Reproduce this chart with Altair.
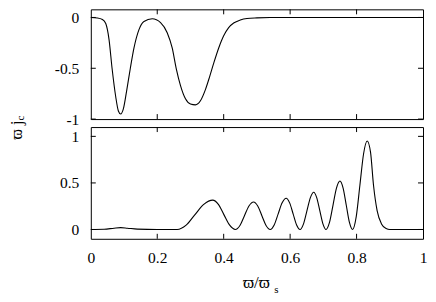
import altair as alt
import pandas as pd

# ---- data ----
top_x = [0.00, 0.02, 0.035, 0.045, 0.055, 0.064, 0.075, 0.083, 0.090, 0.098, 0.108, 0.119,
         0.130, 0.145, 0.160, 0.185, 0.210, 0.230, 0.245, 0.257, 0.270, 0.285, 0.300, 0.315,
         0.330, 0.345, 0.358, 0.370, 0.385, 0.400, 0.415, 0.430, 0.450, 0.470, 0.500, 0.540,
         0.600, 1.000]
top_y = [0.000, -0.005, -0.02, -0.06, -0.22, -0.50, -0.78, -0.92, -0.950, -0.90, -0.72, -0.50,
         -0.30, -0.12, -0.04, -0.012, -0.05, -0.15, -0.30, -0.50, -0.67, -0.80, -0.852, -0.860,
         -0.82, -0.71, -0.58, -0.45, -0.30, -0.18, -0.10, -0.055, -0.025, -0.010, -0.004, -0.001,
         0.000, 0.000]

bot_x = [0.00, 0.04, 0.07, 0.09, 0.11, 0.14, 0.20, 0.26,
         0.287, 0.313, 0.340, 0.367, 0.384, 0.401, 0.418, 0.435,
         0.449, 0.4625, 0.476, 0.490, 0.5025, 0.515, 0.5275, 0.540,
         0.552, 0.564, 0.576, 0.588, 0.5985, 0.609, 0.6195, 0.630,
         0.640, 0.6505, 0.661, 0.671, 0.680, 0.6895, 0.699, 0.708,
         0.7185, 0.729, 0.7395, 0.750, 0.7595, 0.769, 0.7785, 0.788,
         0.799, 0.810, 0.821, 0.832, 0.842, 0.851, 0.862, 0.875, 0.889, 0.900, 1.000]
bot_y = [0.000, 0.002, 0.014, 0.020, 0.014, 0.004, 0.000, 0.000,
         0.046, 0.157, 0.269, 0.315, 0.269, 0.157, 0.046, 0.000,
         0.043, 0.148, 0.252, 0.295, 0.252, 0.148, 0.043, 0.000,
         0.049, 0.168, 0.286, 0.335, 0.286, 0.168, 0.049, 0.000,
         0.058, 0.200, 0.342, 0.400, 0.342, 0.200, 0.058, 0.000,
         0.076, 0.260, 0.444, 0.520, 0.444, 0.260, 0.076, 0.000,
         0.139, 0.475, 0.811, 0.950, 0.830, 0.475, 0.200, 0.060, 0.010, 0.000, 0.000]

x_ticks = [0, 0.2, 0.4, 0.6, 0.8, 1]
top_ticks = [-1, -0.5, 0]
bot_ticks = [0, 0.5, 1]

y_title = "ϖ j"
y_sub = "c"
x_title = "ϖ/ϖ"
x_sub = "s"

FONT = "Liberation Serif"
W = 333
H_TOP = 110
H_BOT = 112
TL = 5  # tick length


def panel(xs, ys, ydom, yticks, h, show_x):
    df = pd.DataFrame({"x": xs, "y": ys})
    xenc = alt.X("x:Q", scale=alt.Scale(domain=[0, 1], nice=False, zero=False),
                 axis=alt.Axis(values=x_ticks, labels=show_x, ticks=False, tickSize=0,
                               domain=False, grid=False, title=None,
                               labelExpr="toString(datum.value)", labelFont=FONT,
                               labelFontSize=15.5, labelColor="black", labelPadding=12,
                               labelFlush=False))
    yenc = alt.Y("y:Q", scale=alt.Scale(domain=ydom, nice=False, zero=False),
                 axis=alt.Axis(values=yticks, ticks=False, tickSize=0, domain=False,
                               grid=False, title=None, labelExpr="toString(datum.value)",
                               labelFont=FONT, labelFontSize=15.5, labelColor="black",
                               labelPadding=12, labelFlush=False))
    line = alt.Chart(df).mark_line(color="black", strokeWidth=1.1,
                                   interpolate="monotone", clip=True).encode(x=xenc, y=yenc)
    xt = pd.DataFrame({"x": x_ticks[1:-1]})
    yt = pd.DataFrame({"y": yticks})
    xt_top = alt.Chart(xt).mark_rule(color="black").encode(x=xenc, y=alt.value(0), y2=alt.value(TL))
    xt_bot = alt.Chart(xt).mark_rule(color="black").encode(x=xenc, y=alt.value(h), y2=alt.value(h - TL))
    yt_l = alt.Chart(yt).mark_rule(color="black").encode(y=yenc, x=alt.value(0), x2=alt.value(TL))
    yt_r = alt.Chart(yt).mark_rule(color="black").encode(y=yenc, x=alt.value(W - TL), x2=alt.value(W))
    return [line, xt_top, xt_bot, yt_l, yt_r]


top_layers = panel(top_x, top_y, [-1, 0.08], top_ticks, H_TOP, False)
ylab = alt.Chart(pd.DataFrame({"t": [y_title]})).mark_text(
    font=FONT, fontSize=16, angle=270, align="center", baseline="alphabetic", color="black"
).encode(text="t:N", x=alt.value(-69), y=alt.value(121))
ysub = alt.Chart(pd.DataFrame({"t": [y_sub]})).mark_text(
    font=FONT, fontSize=11, angle=270, align="center", baseline="alphabetic", color="black"
).encode(text="t:N", x=alt.value(-67), y=alt.value(109))
top = alt.layer(*top_layers, ylab, ysub).properties(width=W, height=H_TOP)

bot_layers = panel(bot_x, bot_y, [-0.1, 1.1], bot_ticks, H_BOT, True)
xlab = alt.Chart(pd.DataFrame({"t": [x_title]})).mark_text(
    font=FONT, fontSize=17, align="center", baseline="alphabetic", color="black"
).encode(text="t:N", x=alt.value(166), y=alt.value(161))
xsub = alt.Chart(pd.DataFrame({"t": [x_sub]})).mark_text(
    font=FONT, fontSize=11, align="center", baseline="alphabetic", color="black"
).encode(text="t:N", x=alt.value(186), y=alt.value(166))
bot = alt.layer(*bot_layers, xlab, xsub).properties(width=W, height=H_BOT)

chart = alt.vconcat(top, bot, spacing=8, bounds="flush").properties(
    padding={"left": 0, "top": 0, "right": 0, "bottom": 0}, background="white"
).configure_view(stroke="black", strokeWidth=1).configure_text(font=FONT)

chart.save("out.html", embed_options={"renderer": "svg", "actions": False})
